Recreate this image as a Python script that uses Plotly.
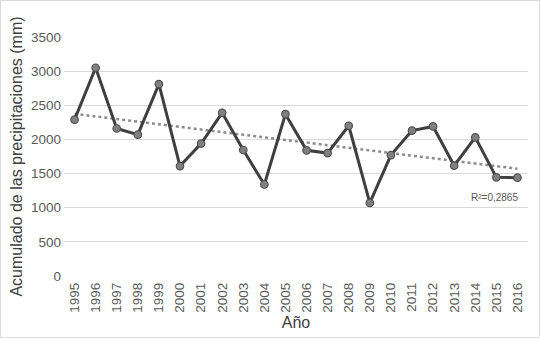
import numpy as np
import plotly.graph_objects as go

years = [str(y) for y in range(1995, 2017)]
precip = [2290, 3050, 2160, 2070, 2810, 1610, 1940, 2390, 1845, 1340, 2370,
          1840, 1800, 2200, 1070, 1770, 2130, 2190, 1615, 2030, 1445, 1440]
r2_label = "R²=0,2865"
y_ticks = [0, 500, 1000, 1500, 2000, 2500, 3000, 3500]

idx = np.arange(len(precip))
slope, intercept = np.polyfit(idx, precip, 1)
trend = list(slope * idx + intercept)

fig = go.Figure()
fig.add_trace(go.Scatter(
    x=years, y=trend, mode="lines",
    line=dict(color="#8c8c8c", width=2.5, dash="dot"),
    hoverinfo="skip", showlegend=False))
fig.add_trace(go.Scatter(
    x=years, y=precip, mode="lines+markers",
    line=dict(color="#3f3f3f", width=3),
    marker=dict(size=7.5, color="#808080", line=dict(color="#505050", width=1.2)),
    showlegend=False))

fig.add_annotation(x=len(years) - 1, y=trend[-1], text=r2_label, showarrow=False,
                   xanchor="right", yanchor="top", xshift=3, yshift=-21,
                   font=dict(family="Liberation Sans, Arial", size=10, color="#595959"))

L, R, T, B = 64, 12, 37, 62
pw, ph = 540 - L - R, 338 - T - B
fig.add_shape(type="rect", xref="paper", yref="paper",
              x0=(0.5 - L) / pw, x1=(539.5 - L) / pw,
              y0=-(B - 0.5) / ph, y1=1 + (T - 0.5) / ph,
              line=dict(color="#d9d9d9", width=1), layer="below")

fig.update_layout(
    width=540, height=338,
    margin=dict(l=L, r=R, t=T, b=B, autoexpand=False),
    paper_bgcolor="white", plot_bgcolor="white",
    font=dict(family="Liberation Sans, Arial", color="#595959"),
    xaxis=dict(type="category", range=[-0.5, len(years) - 0.5], automargin=False,
               tickangle=-90, tickfont=dict(size=13.5),
               showgrid=False, showline=False, ticks="", ticklabelstandoff=3,
               title=dict(text="Año", font=dict(size=16, color="#404040"), standoff=5)),
    yaxis=dict(range=[0, 3500], tickvals=y_ticks, tickfont=dict(size=13.5),
               automargin=False,
               gridcolor="#d9d9d9", gridwidth=1, zeroline=False,
               showline=False, ticks="", ticklabelstandoff=2,
               title=dict(text="Acumulado de las precipitaciones (mm)",
                          font=dict(size=16, color="#404040"), standoff=4)),
)

fig.write_html("out.html", config={"displayModeBar": False},
               post_script="document.body.style.margin='0';document.body.style.padding='0';")
